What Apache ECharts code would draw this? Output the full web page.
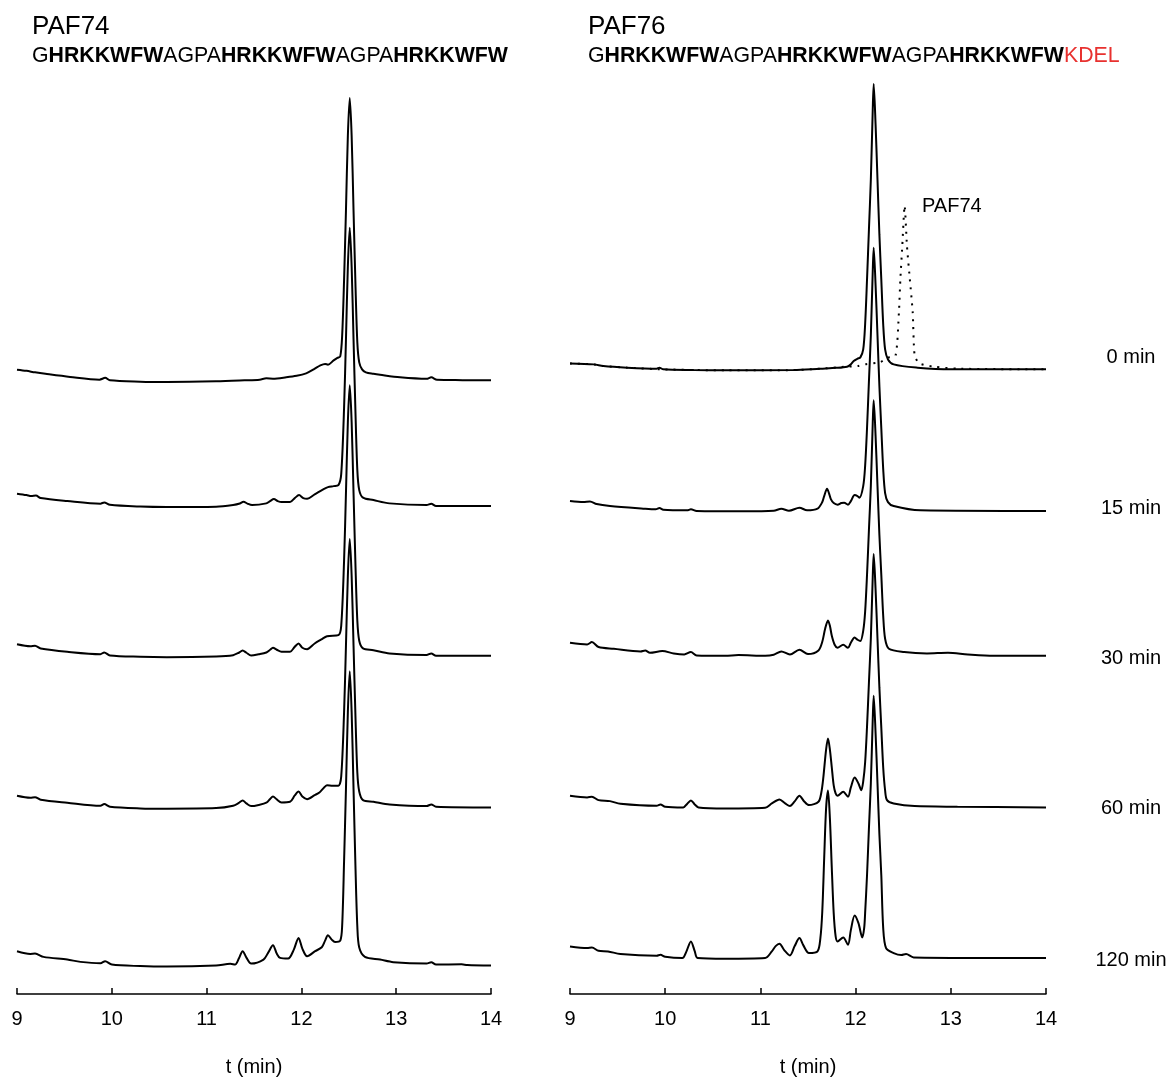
<!DOCTYPE html>
<html>
<head>
<meta charset="utf-8">
<script src="https://cdn.jsdelivr.net/npm/echarts@6/dist/echarts.min.js"></script>
<style>
html,body{margin:0;padding:0;background:#fff;}
#c{width:1171px;height:1082px;}
</style>
</head>
<body>
<div id="c"></div>
<script>
// ---- data: [t (min), signal above trace baseline] ----
const xTicks = [9, 10, 11, 12, 13, 14];
const timeLabels = ['0 min', '15 min', '30 min', '60 min', '120 min'];
const leftOffsets = [615, 489, 339, 187, 28.5];
const rightOffsets = [626, 484, 339, 187, 36];

const L0 = [[9.00,10.7],[9.10,9.5],[9.19,8],[9.30,6.5],[9.56,3.4],[9.87,0.7],[9.93,2.5],[9.98,0],[10.3,-1.3],[10.58,-1.6],[11.1,-1],[11.4,0],[11.56,0.7],[11.63,2],[11.7,1.7],[11.84,3],[11.95,4.5],[12.05,7],[12.13,11],[12.2,15],[12.25,16.5],[12.28,15.7],[12.34,20],[12.38,22.5],[12.41,24],[12.43,45],[12.45,100],[12.47,170],[12.49,245],[12.51,283],[12.53,245],[12.55,170],[12.57,97],[12.59,38],[12.61,18],[12.64,11],[12.68,8],[12.76,6.5],[12.83,5.5],[13.04,3],[13.32,1.5],[13.37,3],[13.43,0.5],[13.7,0.2],[14.0,0]];
const L15 = [[9.00,12.4],[9.10,11],[9.15,10],[9.20,10.5],[9.25,8],[9.53,5],[9.88,2.4],[9.92,3.7],[9.98,1.3],[10.3,-0.5],[10.58,-1],[11.1,-0.7],[11.28,1],[11.35,2.5],[11.39,4.4],[11.43,2.5],[11.48,1],[11.63,2.7],[11.67,5],[11.71,7],[11.75,5],[11.79,4],[11.88,4],[11.93,8],[11.975,11],[12.02,8],[12.06,7.4],[12.14,11.7],[12.23,16.7],[12.28,19],[12.34,20],[12.39,21],[12.42,32],[12.45,98],[12.47,167],[12.49,240],[12.51,279],[12.53,240],[12.55,167],[12.57,95],[12.59,36],[12.61,16],[12.65,8.4],[12.76,6],[12.93,2.7],[13.32,1],[13.37,2.4],[13.42,0],[14.0,0]];
const L30 = [[9.00,11.6],[9.14,9.6],[9.19,10],[9.25,7.3],[9.53,4],[9.88,1.6],[9.92,3.3],[9.98,0.3],[10.3,-1],[10.58,-1.4],[11.1,-0.7],[11.28,0.6],[11.34,3],[11.38,5.3],[11.42,3],[11.47,0.3],[11.55,1.5],[11.63,3.3],[11.67,6],[11.70,8],[11.74,6],[11.79,4],[11.88,4],[11.93,9],[11.97,12.3],[12.01,8],[12.06,6.6],[12.14,12.3],[12.21,16.3],[12.27,19.6],[12.39,20.6],[12.42,30],[12.45,95],[12.47,163],[12.49,234],[12.51,271],[12.53,234],[12.55,163],[12.57,92],[12.59,35],[12.61,15],[12.65,7.3],[12.76,5.6],[12.93,2.3],[13.32,0.7],[13.37,2.3],[13.42,0],[14.0,0]];
const L60 = [[9.00,11.7],[9.14,9.7],[9.19,10.3],[9.25,7.7],[9.53,4.7],[9.88,1.7],[9.92,3.3],[9.98,0.7],[10.3,-1],[10.58,-1.3],[11.1,-0.7],[11.28,1.7],[11.34,4.5],[11.38,7],[11.42,4],[11.47,1.3],[11.55,2.5],[11.63,4.7],[11.67,8.5],[11.70,11],[11.74,8],[11.79,5],[11.88,5.7],[11.93,12],[11.97,16],[12.01,11],[12.06,8.3],[12.14,12.3],[12.19,15],[12.23,19],[12.27,22.3],[12.33,21.7],[12.39,21.7],[12.42,31],[12.45,95],[12.47,162],[12.49,232],[12.51,269],[12.53,232],[12.55,162],[12.57,92],[12.59,35],[12.61,16],[12.65,7.3],[12.76,5.7],[12.93,3],[13.32,1.3],[13.37,3],[13.42,0.7],[14.0,0]];
const L120 = [[9.00,14.4],[9.14,11.7],[9.19,12],[9.28,8.7],[9.53,6],[9.67,3.7],[9.88,2.4],[9.93,4.4],[10.0,1],[10.3,-0.5],[10.58,-1],[11.1,0],[11.25,1.7],[11.30,1],[11.34,7],[11.38,14.4],[11.42,8],[11.47,2],[11.60,6],[11.65,13],[11.70,20.4],[11.74,12],[11.775,7.7],[11.86,7],[11.92,16],[11.97,27.7],[12.01,17],[12.06,9.4],[12.145,14.4],[12.215,18.4],[12.25,25],[12.28,30.4],[12.32,26],[12.355,23.7],[12.41,25],[12.43,40],[12.45,104],[12.47,177],[12.49,254],[12.51,295],[12.53,254],[12.55,177],[12.57,100],[12.59,39],[12.61,18],[12.67,8.7],[12.83,6],[12.97,3.4],[13.32,2],[13.37,3.4],[13.42,1],[13.69,1.3],[13.75,0.5],[14.0,0]];

const R0 = [[9.00,6],[9.25,5],[9.35,3.3],[9.6,1.7],[9.91,0.7],[9.94,1.7],[9.98,0],[10.3,-0.7],[10.65,-1],[11.35,-0.7],[11.63,0.7],[11.80,1.5],[11.91,2.7],[11.95,5],[11.98,8.3],[12.02,10.7],[12.05,12],[12.08,20],[12.10,45],[12.12,90],[12.14,140],[12.16,190],[12.18,260],[12.19,286],[12.21,245],[12.23,190],[12.25,135],[12.27,90],[12.29,45],[12.31,20],[12.34,10],[12.40,5],[12.65,1.7],[13.0,0],[14.0,0]];
const R15 = [[9.00,10],[9.14,9],[9.21,9.7],[9.28,7],[9.42,5],[9.77,2.4],[9.9,1.7],[9.94,3],[9.98,1.3],[10.23,0.7],[10.27,1.7],[10.33,0],[10.82,-0.3],[11.14,0.3],[11.22,2.4],[11.30,0.3],[11.41,3.4],[11.49,0.7],[11.60,2.4],[11.65,9],[11.67,15],[11.70,22.4],[11.72,18],[11.74,12],[11.77,8],[11.81,6.4],[11.85,8],[11.88,8.4],[11.92,6.4],[11.95,10],[11.99,16],[12.02,15],[12.04,13.4],[12.08,25],[12.10,45],[12.12,83],[12.14,130],[12.16,176],[12.18,240],[12.19,264],[12.21,226],[12.23,176],[12.25,125],[12.27,83],[12.29,42],[12.31,18],[12.34,9],[12.40,5],[12.68,0.7],[14.0,0]];
const R30 = [[9.00,13],[9.18,11.3],[9.23,13.7],[9.30,8.7],[9.46,7],[9.74,4.3],[9.79,5.3],[9.84,3],[9.97,4.7],[10.09,2.3],[10.2,1.3],[10.27,3.7],[10.33,0.3],[10.63,0],[10.77,0.7],[11.05,0],[11.14,1],[11.22,4.3],[11.31,1.3],[11.41,6],[11.50,1.7],[11.61,5.3],[11.65,14],[11.68,27],[11.71,35.3],[11.73,30],[11.75,20],[11.78,11],[11.81,8],[11.87,11],[11.92,8],[11.95,13],[11.99,18.3],[12.02,16],[12.05,14.7],[12.08,25],[12.10,44],[12.12,81],[12.14,126],[12.16,170],[12.18,233],[12.19,256],[12.21,220],[12.23,170],[12.25,121],[12.27,81],[12.29,40],[12.31,17],[12.35,7],[12.51,3.7],[12.75,2.3],[12.97,3],[13.18,1.3],[13.45,0],[14.0,0]];
const R60 = [[9.00,11.7],[9.18,10],[9.23,10.7],[9.30,7.3],[9.42,6.3],[9.53,3.7],[9.91,1.7],[9.95,3],[10.0,0.7],[10.19,0],[10.23,3.5],[10.27,7],[10.31,3],[10.35,0],[10.63,-1],[11.05,-0.3],[11.12,4],[11.20,8],[11.26,4],[11.31,1.3],[11.36,6],[11.41,11.7],[11.46,6],[11.51,2.3],[11.61,5.7],[11.64,15],[11.66,29],[11.69,58],[11.71,69],[11.73,58],[11.75,40],[11.77,22],[11.79,14],[11.81,11.7],[11.87,15.7],[11.92,10.7],[11.95,20],[11.99,30],[12.03,24],[12.06,17.3],[12.08,26],[12.10,45],[12.12,81],[12.14,125],[12.16,169],[12.18,231],[12.19,254],[12.21,218],[12.23,169],[12.25,120],[12.27,80],[12.29,40],[12.31,17],[12.33,7.3],[12.40,4],[12.62,1.3],[13.07,0.7],[14.0,0]];
const R120 = [[9.00,11.7],[9.18,10],[9.23,10.5],[9.30,7.3],[9.40,6.7],[9.53,4],[9.91,2.3],[9.95,3.3],[10.0,1.3],[10.18,0],[10.22,6],[10.27,16.7],[10.31,7],[10.34,0],[10.63,-0.7],[11.05,0],[11.12,6.7],[11.16,12],[11.20,14.3],[11.25,8],[11.31,2.7],[11.36,12],[11.41,20],[11.45,13],[11.51,5],[11.60,6.7],[11.63,20],[11.65,46.7],[11.67,100],[11.69,150],[11.71,168],[11.73,140],[11.75,90],[11.77,45],[11.79,22],[11.81,16.7],[11.87,20.7],[11.92,13.3],[11.95,28],[11.99,42.7],[12.03,35],[12.07,20.7],[12.09,30],[12.10,45],[12.12,83],[12.14,130],[12.16,175],[12.18,239],[12.19,263],[12.21,225],[12.23,175],[12.25,124],[12.27,83],[12.29,30],[12.32,10],[12.40,5],[12.48,3],[12.53,4],[12.61,0.7],[14.0,0]];
// PAF74 reference trace (dotted), plotted on the 0 min baseline of the right panel
const PAF74ref = [[9.0,6],[9.25,5],[9.35,3.3],[9.6,1.7],[9.98,0],[10.65,-1],[11.35,-0.7],[11.63,0.7],[11.9,2.7],[12.02,3.3],[12.1,5],[12.26,7.3],[12.33,11.7],[12.42,14],[12.455,57],[12.47,90],[12.49,123],[12.515,164],[12.54,123],[12.57,90],[12.60,57],[12.62,14],[12.67,6],[12.82,2.7],[13.07,0.7],[14,0]];

const leftTraces = [L0, L15, L30, L60, L120];
const rightTraces = [R0, R15, R30, R60, R120];

// ---- chart ----
const FONT = '"Liberation Sans", Arial, Helvetica, sans-serif';
const chart = echarts.init(document.getElementById('c'), null, {renderer: 'canvas'});

function xAxisCfg(gridIndex) {
  return {
    type: 'value', gridIndex, min: xTicks[0], max: xTicks[xTicks.length - 1], interval: 1,
    name: 't (min)', nameLocation: 'middle', nameGap: 63,
    nameTextStyle: {fontFamily: FONT, fontSize: 20, color: '#000'},
    axisLine: {show: true, onZero: false, lineStyle: {color: '#000', width: 1.5}},
    axisTick: {show: true, inside: true, length: 6, lineStyle: {color: '#000', width: 1.5}},
    axisLabel: {fontFamily: FONT, fontSize: 20, color: '#000', margin: 15,
      formatter: v => xTicks.indexOf(v) >= 0 ? String(v) : ''},
    splitLine: {show: false}
  };
}
function yAxisCfg(gridIndex) {
  return {type: 'value', gridIndex, min: 0, max: 916, show: false, splitLine: {show: false}};
}
function mk(data, offset, idx, extra) {
  return Object.assign({
    type: 'line', xAxisIndex: idx, yAxisIndex: idx,
    data: data.map(p => [p[0], p[1] + offset]),
    showSymbol: false, symbol: 'none', silent: true, animation: false,
    smooth: 0.3,
    lineStyle: {color: '#000', width: 2}, z: 3
  }, extra || {});
}

const series = [];
leftTraces.forEach((d, i) => series.push(mk(d, leftOffsets[i], 0)));
rightTraces.forEach((d, i) => series.push(mk(d, rightOffsets[i], 1)));
series.push(mk(PAF74ref, rightOffsets[0], 1, {
  smooth: 0.2,
  lineStyle: {color: '#000', width: 2, type: [2, 6]}, z: 2
}));

const labelY = [357, 508, 658, 808, 960];
const SEQ = 21.3;
const graphic = [
  {type: 'text', left: 32, top: 14, style: {text: 'PAF74', font: '26px ' + FONT, fill: '#000'}},
  {type: 'text', left: 588, top: 14, style: {text: 'PAF76', font: '26px ' + FONT, fill: '#000'}},
  {type: 'text', left: 32, top: 46, style: {
    text: '{n|G}{b|HRKKWFW}{n|AGPA}{b|HRKKWFW}{n|AGPA}{b|HRKKWFW}',
    rich: {n: {fontFamily: FONT, fontSize: SEQ, fill: '#000'}, b: {fontFamily: FONT, fontSize: SEQ, fontWeight: 'bold', fill: '#000'}}
  }},
  {type: 'text', left: 588, top: 46, style: {
    text: '{n|G}{b|HRKKWFW}{n|AGPA}{b|HRKKWFW}{n|AGPA}{b|HRKKWFW}{r|KDEL}',
    rich: {n: {fontFamily: FONT, fontSize: SEQ, fill: '#000'}, b: {fontFamily: FONT, fontSize: SEQ, fontWeight: 'bold', fill: '#000'}, r: {fontFamily: FONT, fontSize: SEQ, fill: '#e8312f'}}
  }},
  {type: 'text', x: 922, y: 206, style: {text: 'PAF74', font: '20px ' + FONT, fill: '#000', textVerticalAlign: 'middle', verticalAlign: 'middle'}}
];
timeLabels.forEach((t, i) => graphic.push({
  type: 'text', x: 1131, y: labelY[i],
  style: {text: t, font: '20px ' + FONT, fill: '#000', textAlign: 'center', align: 'center', textVerticalAlign: 'middle', verticalAlign: 'middle'}
}));

chart.setOption({
  backgroundColor: '#fff',
  animation: false,
  grid: [
    {left: 17, width: 474, top: 80, bottom: 86},
    {left: 570, width: 476, top: 80, bottom: 86}
  ],
  xAxis: [xAxisCfg(0), xAxisCfg(1)],
  yAxis: [yAxisCfg(0), yAxisCfg(1)],
  series,
  graphic
});
</script>
</body>
</html>
